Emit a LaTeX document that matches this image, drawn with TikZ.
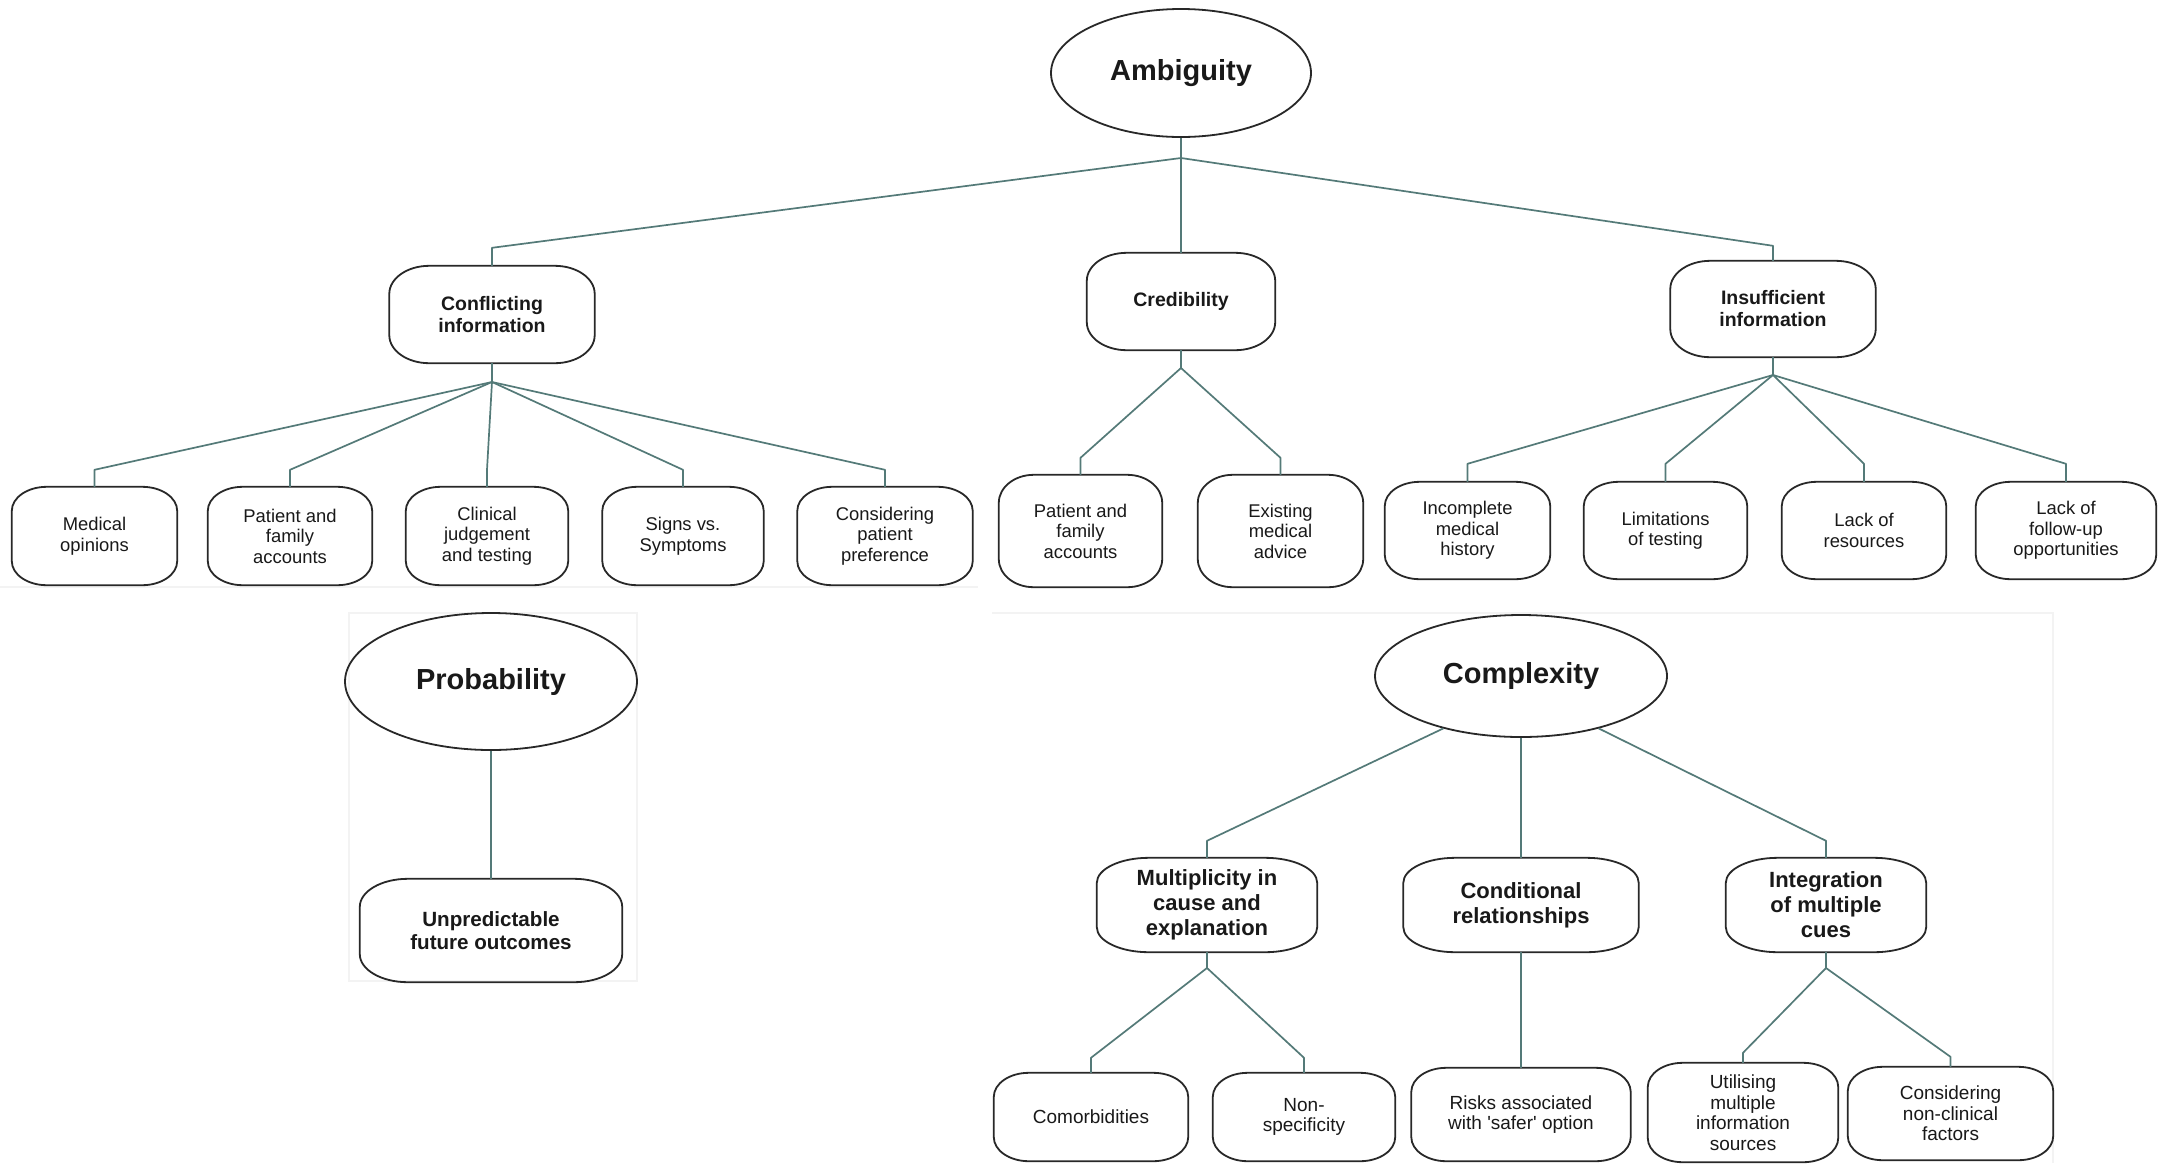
\documentclass[tikz,border=0pt]{standalone}
\usepackage{fontspec}
\setmainfont{Liberation Sans}[Ligatures=TeXOff]
\usetikzlibrary{shapes.geometric,calc}
\definecolor{conn}{RGB}{84,122,120}
\definecolor{boxc}{RGB}{40,40,40}
\definecolor{txt}{RGB}{25,25,25}
\definecolor{faintc}{RGB}{243,243,243}
\newcommand\ebox[3]{%
  \draw[boxline] ($(#1.north west)+(#2,0)$) -- ($(#1.north east)+(-#2,0)$)
    arc[start angle=90,end angle=0,x radius=#2,y radius=#3]
    -- ($(#1.south east)+(0,#3)$)
    arc[start angle=0,end angle=-90,x radius=#2,y radius=#3]
    -- ($(#1.south west)+(#2,0)$)
    arc[start angle=270,end angle=180,x radius=#2,y radius=#3]
    -- ($(#1.north west)+(0,-#3)$)
    arc[start angle=180,end angle=90,x radius=#2,y radius=#3] -- cycle;}
\begin{document}
\begin{tikzpicture}[x=1pt,y=1pt,
  boxline/.style={draw=boxc,line width=1.8pt},
  conline/.style={draw=conn,line width=1.7pt,line join=round},
  faintline/.style={draw=faintc,line width=1.2pt},
  rootnode/.style={ellipse,draw=boxc,line width=1.8pt,inner sep=0pt,text=txt,font=\bfseries\fontsize{29}{34}\selectfont},
  midA/.style={inner sep=0pt,align=center,text=txt,font=\bfseries\fontsize{19.5}{22}\selectfont},
  leafA/.style={inner sep=0pt,align=center,text=txt,font=\fontsize{18.4}{20.5}\selectfont},
  midB/.style={inner sep=0pt,align=center,text=txt,font=\bfseries\fontsize{22}{25}\selectfont},
  leafB/.style={inner sep=0pt,align=center,text=txt,font=\fontsize{19}{20.5}\selectfont},
  unp/.style={inner sep=0pt,align=center,text=txt,font=\bfseries\fontsize{20.6}{23}\selectfont},
  sz/.style 2 args={minimum width=#1,minimum height=#2}
]
\path[use as bounding box, fill=white] (0,0) rectangle (2161,-1163);

% faint background frames
\draw[faintline] (0,-587) -- (978,-587);
\draw[faintline] (349,-613) rectangle (637,-981);
\draw[faintline] (992,-613) -- (2053,-613) -- (2053,-1163);

% ---- Ambiguity ----
\node[rootnode, sz={260}{128}] (amb) at (1181,-73) {Ambiguity};

\node[midA, sz={205}{97}] (conf) at (492,-314.5) {Conflicting\\information};
\node[midA, sz={188}{97}] (cred) at (1181,-301.5) {Credibility};
\node[midA, sz={205}{96}] (insuf) at (1773,-309) {Insufficient\\information};

\node[leafA, sz={165}{98}] (medop) at (94.5,-536) {Medical\\opinions};
\node[leafA, sz={164}{98}] (pfa1) at (290,-536) {Patient and\\family\\accounts};
\node[leafA, sz={162}{98}] (clin) at (487,-536) {Clinical\\judgement\\and testing};
\node[leafA, sz={161}{98}] (signs) at (683,-536) {Signs vs.\\Symptoms};
\node[leafA, sz={175}{98}] (consid) at (885,-536) {Considering\\patient\\preference};

\node[leafA, sz={163}{112}] (pfa2) at (1080.5,-531) {Patient and\\family\\accounts};
\node[leafA, sz={165}{112}] (exist) at (1280.5,-531) {Existing\\medical\\advice};

\node[leafA, sz={165}{97}] (incompl) at (1467.5,-530.5) {Incomplete\\medical\\history};
\node[leafA, sz={163}{97}] (limit) at (1665.5,-530.5) {Limitations\\of testing};
\node[leafA, sz={164}{97}] (lackres) at (1864,-530.5) {Lack of\\resources};
\node[leafA, sz={180}{97}] (lackfu) at (2066,-530.5) {Lack of\\follow-up\\opportunities};

\foreach \n in {conf,cred,insuf}{\ebox{\n}{40}{28}}
\foreach \n in {medop,pfa1,clin,signs,consid,incompl,limit,lackres,lackfu}{\ebox{\n}{35}{24}}
\foreach \n in {pfa2,exist}{\ebox{\n}{35}{28}}

\coordinate (j0) at (1181,-158);
\coordinate (j1) at (492,-382);
\coordinate (j2) at (1181,-368);
\coordinate (j3) at (1773,-375);

\draw[conline] (amb.south) -- (j0);
\draw[conline] (j0) -- ($(conf.north)+(0,18)$) -- (conf.north);
\draw[conline] (j0) -- (cred.north);
\draw[conline] (j0) -- ($(insuf.north)+(0,15)$) -- (insuf.north);

\draw[conline] (conf.south) -- (j1);
\foreach \n in {medop,pfa1,clin,signs,consid}{
  \draw[conline] (j1) -- ($(\n.north)+(0,17)$) -- (\n.north);}
\draw[conline] (cred.south) -- (j2);
\foreach \n in {pfa2,exist}{
  \draw[conline] (j2) -- ($(\n.north)+(0,17)$) -- (\n.north);}
\draw[conline] (insuf.south) -- (j3);
\foreach \n in {incompl,limit,lackres,lackfu}{
  \draw[conline] (j3) -- ($(\n.north)+(0,18)$) -- (\n.north);}

% ---- Probability ----
\node[rootnode, sz={292}{137}] (prob) at (491,-681.5) {Probability};
\node[unp, sz={262}{103}] (unpred) at (491,-930.5) {Unpredictable\\future outcomes};
\ebox{unpred}{48}{28}
\draw[conline] (prob.south) -- (unpred.north);

% ---- Complexity ----
\node[rootnode, sz={292}{122}] (comp) at (1521,-676) {Complexity};
\node[midB, sz={220}{94}] (mult) at (1207,-905) {Multiplicity in\\cause and\\explanation};
\node[midB, sz={235}{94}] (cond) at (1521,-905) {Conditional\\relationships};
\node[midB, sz={200}{94}] (integ) at (1826,-905) {Integration\\of multiple\\cues};
\foreach \n in {mult,cond,integ}{\ebox{\n}{52}{25}}

\node[leafB, sz={194}{88}] (comorb) at (1091,-1117) {Comorbidities};
\node[leafB, sz={182}{88}] (nonspec) at (1304,-1117) {Non-\\specificity};
\node[leafB, sz={219}{93}] (risks) at (1521,-1114.5) {Risks associated\\with 'safer' option};
\node[leafB, sz={190}{99}] (utilis) at (1743,-1112.5) {Utilising\\multiple\\information\\sources};
\node[leafB, sz={205}{93}] (considnc) at (1950.5,-1113.5) {Considering\\non-clinical\\factors};
\foreach \n in {comorb,nonspec,risks,utilis,considnc}{\ebox{\n}{35}{24}}

\coordinate (j4) at (1207,-968);
\coordinate (j5) at (1826,-968);

\draw[conline] (comp.214) -- ($(mult.north)+(0,17)$) -- (mult.north);
\draw[conline] (comp.south) -- (cond.north);
\draw[conline] (comp.326) -- ($(integ.north)+(0,17)$) -- (integ.north);

\draw[conline] (mult.south) -- (j4);
\foreach \n in {comorb,nonspec}{
  \draw[conline] (j4) -- ($(\n.north)+(0,15)$) -- (\n.north);}
\draw[conline] (cond.south) -- (risks.north);
\draw[conline] (integ.south) -- (j5);
\foreach \n in {utilis,considnc}{
  \draw[conline] (j5) -- ($(\n.north)+(0,10)$) -- (\n.north);}
\end{tikzpicture}
\end{document}
